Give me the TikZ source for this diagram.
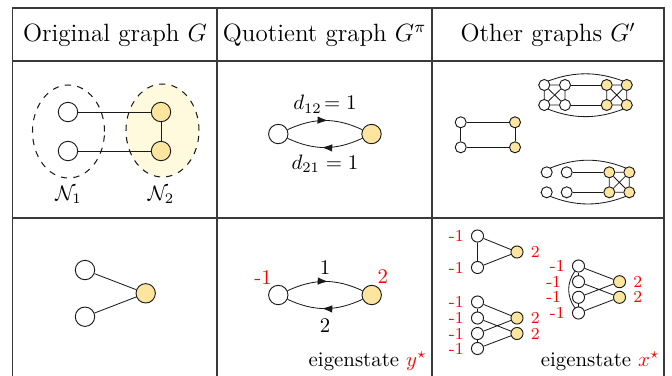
\documentclass[tikz,border=0pt]{standalone}
\usepackage{amsmath,amssymb}
\usetikzlibrary{arrows.meta,positioning,decorations.markings,backgrounds}
\definecolor{Ylw}{HTML}{FCE69F}
\definecolor{YlwPale}{HTML}{FFF9DD}
\definecolor{Ink}{HTML}{1A1A1A}
\definecolor{Rule}{HTML}{3A3A3A}
\tikzset{
  vbig/.style={circle,draw=Ink,line width=0.45pt,minimum size=9.3pt,inner sep=0pt},
  vsmall/.style={circle,draw=Ink,line width=0.45pt,minimum size=5.3pt,inner sep=0pt},
  vmid/.style={circle,draw=Ink,line width=0.45pt,minimum size=5.8pt,inner sep=0pt},
  wv/.style={fill=white},
  yv/.style={fill=Ylw},
  link/.style={draw=Ink,line width=0.4pt},
  midarrow/.style={postaction={decorate},decoration={markings,
    mark=at position 0.54 with {\arrow{Latex[length=5pt,width=3.6pt]}}}},
  val/.style={text=red,font=\footnotesize}
}

\begin{document}
\begin{tikzpicture}[x=0.48pt,y=0.48pt]
  \useasboundingbox (0,0) rectangle (672,-375);
  \draw[Rule,line width=0.65pt] (12.5,-380) -- (12.5,-8) -- (664,-8) -- (664,-380);
  \draw[Rule,line width=0.65pt] (12.5,-61) -- (664,-61) (12.5,-218) -- (664,-218);
  \draw[Rule,line width=0.65pt] (217,-8) -- (217,-380) (432,-8) -- (432,-380);
  \node[font=\large] (hG) at (115,-35) {Original graph $G$};
  \node[font=\large] (hQ) at (324.5,-35) {Quotient graph $G^{\pi}$};
  \node[font=\large] (hO) at (548,-35) {Other graphs $G'$};

  \draw[Ink,dashed,line width=0.5pt] (68.5,-131.5) ellipse [x radius=36,y radius=46.5];
  \draw[Ink,dashed,fill=YlwPale,line width=0.5pt] (162.5,-130.5) ellipse [x radius=36.5,y radius=46.5];
  \node[vbig,wv] (a1) at (68,-112) {};
  \node[vbig,wv] (a2) at (68,-151) {};
  \node[vbig,yv] (a3) at (161,-112) {};
  \node[vbig,yv] (a4) at (161,-151) {};
  \draw[link] (a1) -- (a3) (a2) -- (a4) (a3) -- (a4);
  \node (n1) at (68.5,-194.5) {$\mathcal{N}_1$};
  \node (n2) at (161,-194.5) {$\mathcal{N}_2$};

  \node[vbig,wv] (q1) at (278.3,-134) {};
  \node[vbig,yv] (q2) at (371.5,-134) {};
  \draw[link,midarrow] (q1) to[bend left=25] node[above] {$d_{12}\!=1$} (q2);
  \draw[link,midarrow] (q2) to[bend left=25] node[below] {$d_{21}=1$} (q1);

  \node[vsmall,wv] (c1) at (460.7,-122.3) {};
  \node[vsmall,wv] (c2) at (460.7,-147.3) {};
  \node[vsmall,yv] (c3) at (515,-122.3) {};
  \node[vsmall,yv] (c4) at (515,-147.3) {};
  \draw[link] (c1) -- (c3) -- (c4) -- (c2) -- (c1);

  \foreach \n/\x/\y/\s in {t1/544.3/85/wv,t2/565/85/wv,t3/544.3/105/wv,t4/565/105/wv,
    t5/606.7/85/yv,t6/626.7/85/yv,t7/606.7/105/yv,t8/626.7/105/yv}
    \node[vsmall,\s] (\n) at (\x,-\y) {};
  \draw[link] (t1) -- (t2) -- (t4) -- (t3) -- (t1) -- (t4) (t2) -- (t3);
  \draw[link] (t5) -- (t6) -- (t8) -- (t7) -- (t5) -- (t8) (t6) -- (t7);
  \draw[link] (t2) -- (t5) (t4) -- (t7);

  \foreach \n/\x/\y/\s in {u1/546.7/172.3/wv,u2/566.7/172.3/wv,u3/546.7/192.3/wv,u4/566.7/192.3/wv,
    u5/609.3/172.3/yv,u6/629.3/172.3/yv,u7/609.3/192.3/yv,u8/629.3/192.3/yv}
    \node[vsmall,\s] (\n) at (\x,-\y) {};
  \draw[link] (u5) -- (u6) -- (u8) -- (u7) -- (u5) -- (u8) (u6) -- (u7);
  \draw[link] (u2) -- (u5) (u4) -- (u7);

  \begin{scope}[on background layer]
    \draw[link] (t1.west) to[bend left=24] (t6.east);
    \draw[link] (t3.west) to[bend right=25] (t8.east);
    \draw[link] (u1.west) to[bend left=26] (u6.east);
    \draw[link] (u3.west) to[bend right=25] (u8.east);
  \end{scope}

  \node[vbig,wv] (b1) at (85,-270) {};
  \node[vbig,wv] (b2) at (85,-316.7) {};
  \node[vbig,yv] (b3) at (145.7,-293.3) {};
  \draw[link] (b1) -- (b3) (b2) -- (b3);

  \node[vbig,wv,label={[text=red,inner sep=0pt,label distance=1.5pt,xshift=1.2pt]130:-1}] (r1) at (278.3,-295) {};
  \node[vbig,yv,label={[text=red,inner sep=0pt,label distance=1.5pt,xshift=-1pt]55:2}] (r2) at (371.7,-295) {};
  \draw[link,midarrow] (r1) to[bend left=25] node[above] {1} (r2);
  \draw[link,midarrow] (r2) to[bend left=25] node[below=1.5pt] {2} (r1);
  \node[anchor=base east,inner sep=0pt] (ey) at (427,-366.5) {eigenstate $\textcolor{red}{y^{\star}}$};

  \node[vmid,wv,label={[val]left:-1}] (s1) at (477.5,-236) {};
  \node[vmid,wv,label={[val]left:-1}] (s2) at (477.5,-267.5) {};
  \node[vmid,yv,label={[val]right:2}] (s3) at (517,-252) {};
  \draw[link] (s1) -- (s2) -- (s3) -- (s1);

  \foreach \n/\y in {p1/302,p2/318,p3/333.5,p4/348.5}
    \node[vmid,wv,label={[val]left:-1}] (\n) at (477.5,-\y) {};
  \node[vmid,yv,label={[val]right:2}] (p5) at (517,-318) {};
  \node[vmid,yv,label={[val]right:2}] (p6) at (517,-333.5) {};
  \draw[link] (p1) -- (p2) (p3) -- (p4);
  \draw[link] (p1) -- (p5) (p2) -- (p6) (p3) -- (p5) (p4) -- (p6);

  \foreach \n/\y/\d in {m1/266/0pt,m2/281.7/1.7pt,m3/297.3/1.7pt,m4/313/0pt}
    \node[vmid,wv,label={[val,label distance=\d]left:-1}] (\n) at (578.5,-\y) {};
  \node[vmid,yv,label={[val]right:2}] (m5) at (619.5,-281.7) {};
  \node[vmid,yv,label={[val]right:2}] (m6) at (619.5,-297.3) {};
  \draw[link] (m1) -- (m2) (m3) -- (m4);
  \draw[link] (m1) -- (m5) (m2) -- (m6) (m3) -- (m5) (m4) -- (m6);
  \draw[link] (m1) to[bend right=35] (m4);
  \node[anchor=base east,inner sep=0pt] (ex) at (660,-366.5) {eigenstate $\textcolor{red}{x^{\star}}$};
\end{tikzpicture}
\end{document}
